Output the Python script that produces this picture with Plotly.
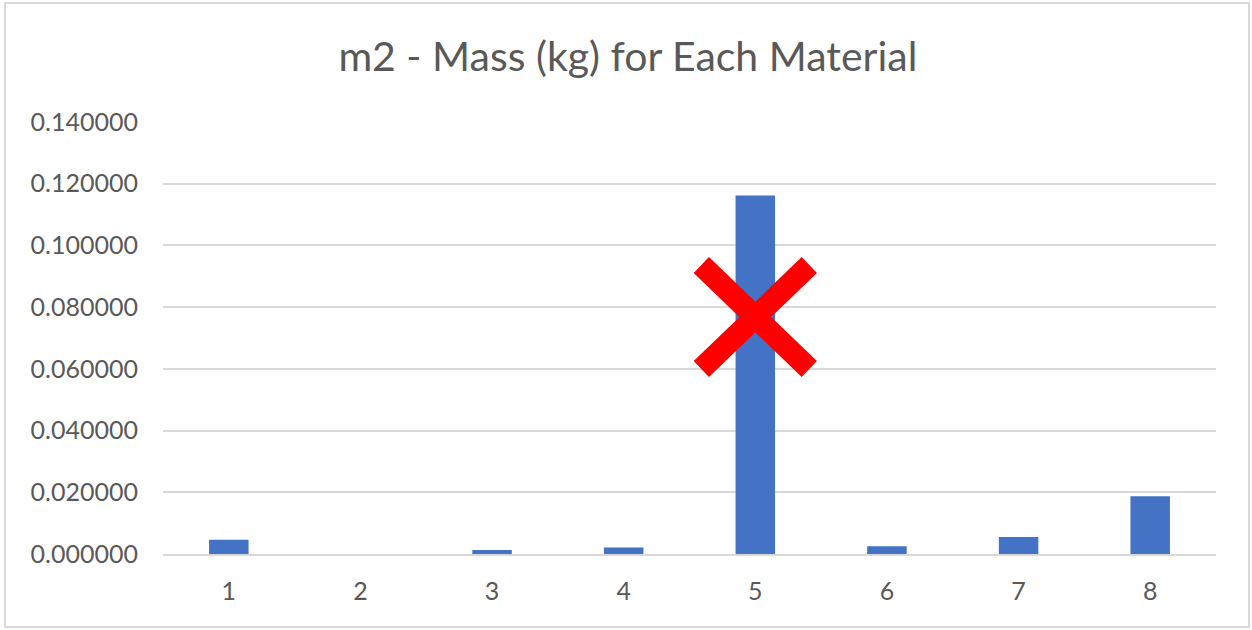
import plotly.graph_objects as go

materials = ["1", "2", "3", "4", "5", "6", "7", "8"]
mass_kg = [0.0046, 0.0, 0.0013, 0.0021, 0.1162, 0.0025, 0.0055, 0.0187]
y_ticks = [0.0, 0.02, 0.04, 0.06, 0.08, 0.10, 0.12, 0.14]
y_tick_labels = ["%.6f" % v for v in y_ticks]

# marker "X" drawn over material 5
cross_x = "5"
cross_y = 0.0768

W, H = 1252, 630
L, R, T, B = 163, 36, 122, 76
pw, ph = W - L - R, H - T - B

fig = go.Figure()
fig.add_trace(go.Bar(x=materials, y=mass_kg, marker=dict(color="#4472C4", line=dict(width=0))))

fig.update_layout(
    width=W, height=H,
    margin=dict(l=L, r=R, t=T, b=B),
    paper_bgcolor="white", plot_bgcolor="white",
    bargap=0.70,
    showlegend=False,
    font=dict(family="Lato, Open Sans, sans-serif", color="#595959"),
    title=dict(text="m2 - Mass (kg) for Each Material", x=0.5015, xanchor="center",
               y=1 - 57 / H, yanchor="middle", yref="container",
               font=dict(size=41, color="#595959", family="Lato, Open Sans, sans-serif")),
    xaxis=dict(type="category", showgrid=False, showline=True, linecolor="#D9D9D9", linewidth=2,
               ticks="", tickfont=dict(size=25, color="#595959"), ticklabelstandoff=14),
    yaxis=dict(range=[0, 0.14], tickvals=y_ticks, ticktext=y_tick_labels, showgrid=True,
               gridcolor="#D9D9D9", gridwidth=2, zeroline=False, showline=False, ticks="",
               tickfont=dict(size=25, color="#595959"), ticklabelstandoff=24),
)

# red X (pixel-sized shapes anchored at data point)
cross_idx = materials.index(cross_x)
for (x0, y0, x1, y1) in [(-54, 52, 54, -52), (-54, -52, 54, 52)]:
    fig.add_shape(type="line", xref="x", yref="y", xsizemode="pixel", ysizemode="pixel",
                  xanchor=cross_idx, yanchor=cross_y, x0=x0, y0=y0, x1=x1, y1=y1,
                  line=dict(color="#FF0000", width=22))

# chart border
fig.add_shape(type="rect", xref="paper", yref="paper",
              x0=(5 - L) / pw, x1=(1249 - L) / pw, y0=(H - B - 627) / ph, y1=(H - B - 3) / ph,
              line=dict(color="#D9D9D9", width=2), fillcolor="rgba(0,0,0,0)", layer="below")

fig.write_html("out.html")
